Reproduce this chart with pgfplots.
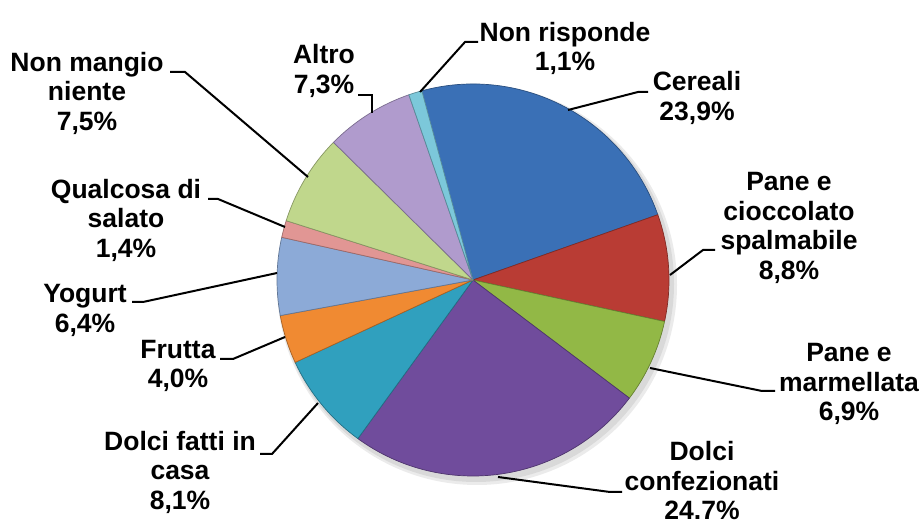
\documentclass[border=0pt]{standalone}
\usepackage{pgfplots}
\pgfplotsset{compat=1.18}
\usepackage{pgfplotstable}
\usepackage{fontspec}
\setmainfont{Liberation Sans}
\definecolor{cCereali}{RGB}{58,112,182}
\definecolor{cCiocc}{RGB}{185,60,52}
\definecolor{cMarm}{RGB}{146,184,70}
\definecolor{cConf}{RGB}{112,76,156}
\definecolor{cCasa}{RGB}{48,160,190}
\definecolor{cFrutta}{RGB}{240,138,50}
\definecolor{cYogurt}{RGB}{140,170,215}
\definecolor{cSalato}{RGB}{225,150,148}
\definecolor{cNiente}{RGB}{192,215,140}
\definecolor{cAltro}{RGB}{176,155,205}
\definecolor{cNonris}{RGB}{124,200,218}
% clockwise from Cereali
\pgfplotstableread{
pct  col
23.9 cCereali
8.8  cCiocc
6.9  cMarm
24.7 cConf
8.1  cCasa
4.0  cFrutta
6.4  cYogurt
1.4  cSalato
7.5  cNiente
7.3  cAltro
1.1  cNonris
}\piedata
\begin{document}
\begin{tikzpicture}
\useasboundingbox (0,0) rectangle (924pt,524pt);
\begin{axis}[
  at={(0,0)}, anchor=south west,
  width=924pt, height=524pt, scale only axis,
  xmin=0, xmax=924, ymin=0, ymax=524,
  hide axis, clip=false,
]
% soft shadow
\fill[black, opacity=0.08] (axis cs:477,239) circle[radius=200pt];
\fill[black, opacity=0.08] (axis cs:476,240) circle[radius=198pt];
\def\cur{105.5}
\pgfplotsforeachungrouped \i in {0,...,10}{%
  \pgfplotstablegetelem{\i}{pct}\of\piedata \let\p=\pgfplotsretval
  \pgfplotstablegetelem{\i}{col}\of\piedata \let\c=\pgfplotsretval
  \pgfmathsetmacro\a{\cur}%
  \pgfmathsetmacro\b{\cur-3.6*\p}%
  \edef\temp{\noexpand\filldraw[fill=\c, draw=\c!70!black, line width=0.7pt, line join=round]
    (axis cs:473,244) -- +(\a:196pt) arc[start angle=\a, end angle=\b, radius=196pt] -- cycle;}%
  \temp
  \global\let\cur\b
}
% leader lines
\tikzset{lead/.style={black, solid, line width=2pt, no markers, line join=miter}}
\addplot[lead] coordinates {(478,482) (465,482) (420,432)};
\addplot[lead] coordinates {(358,429) (372,429) (372,411)};
\addplot[lead] coordinates {(170,452) (185,452) (308,347)};
\addplot[lead] coordinates {(208,325) (218,325) (285,297)};
\addplot[lead] coordinates {(132,222) (143,222) (277,251)};
\addplot[lead] coordinates {(220,165) (233,165) (285,187)};
\addplot[lead] coordinates {(260,70) (272,70) (318,121)};
\addplot[lead] coordinates {(498,47) (610,32) (622,32)};
\addplot[lead] coordinates {(650,156) (762,133) (775,133)};
\addplot[lead] coordinates {(670,249) (703,274) (715,274)};
\addplot[lead] coordinates {(568,414) (638,432) (648,432)};
% labels
\tikzset{lab/.style={align=center, inner sep=0pt, font=\fontsize{26.5}{29.5}\selectfont\bfseries}}
\node[lab] at (axis cs:565,475.5) {Non risponde\\1,1\%};
\node[lab] at (axis cs:324,453) {Altro\\7,3\%};
\node[lab] at (axis cs:87,431) {Non mangio\\niente\\7,5\%};
\node[lab] at (axis cs:126,304) {Qualcosa di\\salato\\1,4\%};
\node[lab] at (axis cs:85,213.5) {Yogurt\\6,4\%};
\node[lab] at (axis cs:178,158) {Frutta\\4,0\%};
\node[lab] at (axis cs:180,52) {Dolci fatti in\\casa\\8,1\%};
\node[lab] at (axis cs:702,43) {Dolci\\confezionati\\24.7\%};
\node[lab] at (axis cs:849,140) {Pane e\\marmellata\\6,9\%};
\node[lab] at (axis cs:789,296) {Pane e\\cioccolato\\spalmabile\\8,8\%};
\node[lab] at (axis cs:697,426) {Cereali\\23,9\%};
\end{axis}
\end{tikzpicture}
\end{document}
